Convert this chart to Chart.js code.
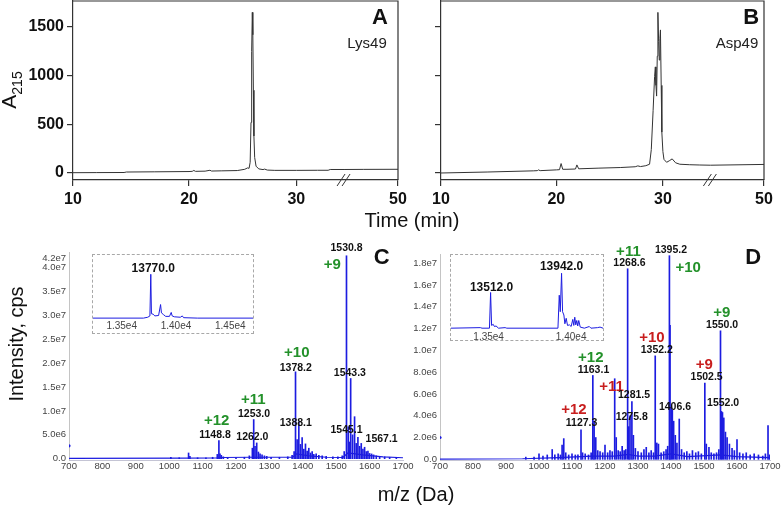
<!DOCTYPE html>
<html>
<head>
<meta charset="utf-8">
<script src="https://cdn.jsdelivr.net/npm/chart.js@4.4.0/dist/chart.umd.min.js"></script>
<style>
  html, body { margin: 0; padding: 0; background: #fff; }
  #wrap { position: relative; width: 782px; height: 506px; overflow: hidden;
          font-family: "Liberation Sans", Arial, sans-serif; color: #111; }
  #wrap canvas { position: absolute; }
  .title { position: absolute; font-size: 20px; white-space: nowrap; transform: translate(-50%, -50%); }
  .rot { transform: translate(-50%, -50%) rotate(-90deg); }
  .inset { position: absolute; border: 1px dashed #a8a8a8; box-sizing: border-box; }
  .inset canvas { left: 0; top: 0; }
</style>
</head>
<body>
<div id="wrap">
  <canvas id="chartA" style="left:0;top:0" width="420" height="212"></canvas>
  <canvas id="chartB" style="left:420px;top:0" width="362" height="212"></canvas>
  <canvas id="chartC" style="left:0;top:240px" width="420" height="250"></canvas>
  <canvas id="chartD" style="left:405px;top:240px" width="377" height="250"></canvas>
  <div class="inset" style="left:92px;top:254px;width:162px;height:80px"><canvas id="insetC" width="160" height="78"></canvas></div>
  <div class="inset" style="left:450px;top:254px;width:154px;height:87px"><canvas id="insetD" width="152" height="85"></canvas></div>
  <div class="title rot" style="left:11px;top:90px;font-size:21px">A<sub style="font-size:14px">215</sub></div>
  <div class="title" style="left:412px;top:220px">Time (min)</div>
  <div class="title rot" style="left:16px;top:344px">Intensity, cps</div>
  <div class="title" style="left:416px;top:494px">m/z (Da)</div>
</div>
<script>
// --- HPLC traces (time in min, absorbance at 215 nm)
const timeA = [10, 12, 14.4, 14.6, 17, 20, 20.3, 20.45, 20.6, 21.5, 21.95, 22.1, 23, 24.5, 25.2, 25.45, 25.6, 25.7, 25.78, 25.84, 25.9, 25.95, 26.0, 26.05, 26.12, 26.25, 26.5, 26.9, 27.05, 27.3, 28, 30, 32, 33, 33.2, 34.5, 40, 50];
const absA  = [3, 4, 5, 10, 12, 15, 17, 26, 17, 19, 28, 20, 22, 25, 38, 52, 48, 110, 520, 1250, 1650, 1420, 850, 380, 160, 70, 42, 35, 40, 30, 27, 27, 28, 28, 36, 36, 37, 38];

const timeB = [10, 14, 18, 18.35, 18.45, 18.6, 20, 20.3, 20.45, 20.6, 21, 21.8, 21.93, 22.1, 24, 26, 27.4, 27.65, 27.9, 28.4, 28.75, 28.91, 29.08, 29.22, 29.29, 29.35, 29.41, 29.47, 29.53, 29.6, 29.66, 29.72, 29.77, 29.84, 29.9, 30.0, 30.1, 30.35, 30.6, 30.88, 31.2, 31.6, 32.5, 33.5, 34.5, 50];
const absB  = [0, 10, 22, 24, 32, 24, 32, 34, 97, 38, 38, 41, 83, 43, 50, 56, 64, 73, 66, 75, 90, 240, 640, 990, 1090, 900, 790, 1200, 1650, 1350, 1160, 1380, 1470, 900, 420, 220, 140, 110, 125, 145, 105, 90, 85, 82, 80, 88];

const timeTicks = [10, 20, 30, 50];
const absTicks = [0, 500, 1000, 1500];

// --- ESI spectra (m/z, intensity in cps)
const mzC  = [1005, 1030, 1058, 1062, 1085, 1110, 1130, 1144, 1148.8, 1152, 1156, 1162, 1175, 1200, 1225, 1240, 1249, 1253.0, 1257, 1262.0, 1267, 1272, 1278, 1285, 1292, 1305, 1330, 1355, 1368, 1374, 1378.2, 1383, 1388.1, 1393, 1398, 1403, 1408, 1413, 1418, 1423, 1428, 1433, 1440, 1448, 1458, 1470, 1490, 1505, 1518, 1524, 1530.8, 1536, 1540, 1543.3, 1549, 1555, 1560, 1565, 1570, 1575, 1580, 1585, 1590, 1595, 1600, 1606, 1612, 1620, 1630, 1645, 1660, 1680];
const intC = [0.3e6, 0.2e6, 1.2e6, 0.5e6, 0.2e6, 0.2e6, 0.3e6, 0.9e6, 3.8e6, 1.0e6, 0.7e6, 0.4e6, 0.2e6, 0.2e6, 0.3e6, 0.6e6, 2.2e6, 8.2e6, 2.6e6, 3.3e6, 1.4e6, 1.0e6, 0.8e6, 0.6e6, 0.5e6, 0.3e6, 0.3e6, 0.4e6, 0.7e6, 1.5e6, 18.2e6, 4.0e6, 7.7e6, 3.0e6, 4.4e6, 2.0e6, 3.1e6, 1.6e6, 2.2e6, 1.2e6, 1.5e6, 0.9e6, 1.0e6, 0.7e6, 0.6e6, 0.5e6, 0.4e6, 0.4e6, 0.6e6, 1.5e6, 42.5e6, 6.7e6, 3.5e6, 16.8e6, 5.0e6, 8.8e6, 3.2e6, 4.5e6, 2.6e6, 3.2e6, 2.0e6, 2.4e6, 1.5e6, 1.6e6, 1.1e6, 1.0e6, 0.8e6, 0.6e6, 0.5e6, 0.4e6, 0.3e6, 0.2e6];
const baseMzC  = [700, 1050, 1140, 1160, 1245, 1300, 1370, 1380, 1420, 1470, 1520, 1535, 1580, 1640, 1700];
const baseIntC = [0.05e6, 0.1e6, 0.15e6, 0.25e6, 0.3e6, 0.3e6, 0.3e6, 1.0e6, 0.6e6, 0.3e6, 0.25e6, 1.2e6, 0.8e6, 0.4e6, 0.2e6];

const mzD  = [960, 985, 1000, 1012, 1025, 1040, 1048, 1058, 1065, 1070, 1075, 1081, 1090, 1100, 1110, 1118, 1127.3, 1132, 1140, 1150, 1158, 1163.1, 1167, 1172, 1178, 1185, 1193, 1200, 1208, 1215, 1222, 1229.4, 1234, 1240, 1246, 1252, 1258, 1263, 1268.6, 1272, 1275.8, 1281.5, 1286, 1292, 1300, 1310, 1318, 1325, 1333, 1340, 1347, 1352.2, 1357, 1362, 1370, 1378, 1385, 1390, 1395.2, 1397, 1401, 1404, 1408, 1413, 1418, 1425, 1432, 1440, 1448, 1456, 1465, 1475, 1483, 1492, 1502.5, 1507, 1515, 1522, 1530, 1538, 1545, 1550.0, 1553, 1556, 1560, 1565, 1570, 1577, 1585, 1592, 1600, 1608, 1618, 1628, 1640, 1652, 1665, 1678, 1686, 1694, 1699];
const intD = [0.2e6, 0.2e6, 0.5e6, 0.3e6, 0.4e6, 0.9e6, 0.4e6, 0.5e6, 0.4e6, 1.3e6, 1.9e6, 0.6e6, 0.4e6, 0.5e6, 0.4e6, 0.4e6, 2.7e6, 0.6e6, 0.5e6, 0.4e6, 0.6e6, 7.7e6, 3.5e6, 2.0e6, 0.8e6, 0.7e6, 0.6e6, 1.3e6, 0.6e6, 0.8e6, 0.7e6, 7.4e6, 2.0e6, 0.8e6, 0.7e6, 1.2e6, 0.8e6, 0.9e6, 17.5e6, 3.0e6, 4.0e6, 5.3e6, 2.2e6, 1.0e6, 0.7e6, 0.6e6, 0.9e6, 1.1e6, 0.6e6, 0.8e6, 0.6e6, 9.5e6, 1.5e6, 1.4e6, 0.6e6, 0.7e6, 0.9e6, 1.2e6, 18.7e6, 12.3e6, 4.8e6, 4.5e6, 3.5e6, 2.2e6, 1.5e6, 3.7e6, 0.9e6, 0.6e6, 0.7e6, 0.5e6, 0.8e6, 0.6e6, 0.7e6, 0.5e6, 7.0e6, 1.4e6, 1.1e6, 0.6e6, 0.5e6, 0.6e6, 0.9e6, 11.8e6, 4.4e6, 4.3e6, 3.8e6, 2.5e6, 2.0e6, 1.4e6, 1.0e6, 0.8e6, 1.8e6, 0.6e6, 0.5e6, 0.6e6, 0.4e6, 0.5e6, 0.4e6, 0.3e6, 0.5e6, 3.1e6, 0.4e6];
const baseMzD  = [700, 950, 1060, 1160, 1230, 1270, 1300, 1350, 1400, 1450, 1550, 1600, 1700];
const baseIntD = [0.02e6, 0.05e6, 0.15e6, 0.3e6, 0.3e6, 0.45e6, 0.3e6, 0.3e6, 0.5e6, 0.25e6, 0.4e6, 0.25e6, 0.15e6];

const mzTicks = [700, 800, 900, 1000, 1100, 1200, 1300, 1400, 1500, 1600, 1700];
const intTicksC = [0, 5e6, 1e7, 1.5e7, 2e7, 2.5e7, 3e7, 3.5e7, 4e7, 4.2e7];
const intTicksD = [0, 2e6, 4e6, 6e6, 8e6, 1e7, 1.2e7, 1.4e7, 1.6e7, 1.8e7];

// --- deconvoluted mass insets (relative intensity)
const massC = [13236, 13700, 13740, 13760, 13768, 13774, 13790, 13805, 13840, 13858, 13866, 13885, 13905, 13940, 13956, 13965, 13985, 14040, 14058, 14070, 14200, 14709];
const relC  = [0, 0, 0.02, 0.05, 1.0, 0.1, 0.09, 0.05, 0.06, 0.31, 0.12, 0.08, 0.04, 0.04, 0.13, 0.05, 0.03, 0.02, 0.05, 0.01, 0, 0];
const massD = [13272, 13450, 13460, 13505, 13512, 13518, 13528, 13535, 13545, 13560, 13600, 13610, 13920, 13928, 13934, 13942, 13948, 13956, 13962, 13970, 13978, 13990, 14000, 14010, 14016, 14022, 14028, 14034, 14040, 14046, 14055, 14080, 14110, 14120, 14160, 14175, 14193];
const relD  = [0, 0.01, 0, 0, 0.65, 0.05, 0.07, 0.03, 0.04, 0, 0.01, 0, 0, 0.6, 0.3, 1.0, 0.3, 0.24, 0.08, 0.18, 0.05, 0.06, 0.03, 0.16, 0.05, 0.2, 0.06, 0.14, 0.04, 0.14, 0.02, 0, 0.03, 0, 0.01, 0.02, 0];

const FONT = "'Liberation Sans', Arial, sans-serif";
const GREEN = '#23912a';
const RED = '#c81e1e';
const BLUE = '#1c1ce0';
Chart.defaults.font.family = FONT;
Chart.defaults.color = '#111';

// time axis with a break after 34.5 min (34.5-50 squeezed into the last strip)
const knotVals = [10, 20, 30, 34.5, 50];
const knotFrac = [0, 0.357, 0.687, 0.834, 1];
class BrokenTime extends Chart.LinearScale {
  toDisplay(v) {
    let i = 1;
    while (i < knotVals.length - 1 && v > knotVals[i]) i++;
    const f = knotFrac[i - 1] + (v - knotVals[i - 1]) / (knotVals[i] - knotVals[i - 1]) * (knotFrac[i] - knotFrac[i - 1]);
    return this.min + f * (this.max - this.min);
  }
  getPixelForValue(v) {
    return super.getPixelForValue(this.toDisplay(v));
  }
}
BrokenTime.id = 'brokenTime';
BrokenTime.defaults = Chart.LinearScale.defaults;
Chart.register(BrokenTime);

function pts(xs, ys) {
  return xs.map((x, i) => ({ x: x, y: ys[i] }));
}

function setTicks(list) {
  return s => { s.ticks = list.map(v => ({ value: v })); };
}

function fixSize(prop, size) {
  return s => {
    s[prop] = size;
    s.paddingTop = 0; s.paddingBottom = 0; s.paddingLeft = 0; s.paddingRight = 0;
  };
}

// text labels placed in data coordinates
function texts(items) {
  return {
    id: 'texts',
    afterDatasetsDraw(chart) {
      const ctx = chart.ctx;
      const xs = chart.scales.x, ys = chart.scales.y;
      items.forEach(it => {
        ctx.save();
        ctx.font = it.font;
        ctx.fillStyle = it.color || '#111';
        ctx.textAlign = 'center';
        ctx.textBaseline = 'middle';
        ctx.fillText(it.text, xs.getPixelForValue(it.x), ys.getPixelForValue(it.y));
        ctx.restore();
      });
    }
  };
}

// top/right frame and the // break marks of the chromatograms
const frame = {
  id: 'frame',
  afterDraw(chart) {
    const ctx = chart.ctx;
    const a = chart.chartArea;
    ctx.save();
    ctx.strokeStyle = '#333';
    ctx.lineWidth = 1.2;
    ctx.beginPath();
    ctx.moveTo(a.left, a.top);
    ctx.lineTo(a.right, a.top);
    ctx.lineTo(a.right, a.bottom);
    ctx.stroke();
    const bx = chart.scales.x.getPixelForValue(34.5);
    const by = a.bottom;
    ctx.lineWidth = 1;
    ctx.beginPath();
    ctx.moveTo(bx - 7, by + 6); ctx.lineTo(bx + 1, by - 6);
    ctx.moveTo(bx - 2, by + 6); ctx.lineTo(bx + 6, by - 6);
    ctx.stroke();
    ctx.restore();
  }
};

function hplc(id, times, values, showLabels, yWidth, padRight, items) {
  return new Chart(document.getElementById(id), {
    type: 'line',
    data: {
      datasets: [{
        data: pts(times, values),
        borderColor: '#333',
        borderWidth: 1,
        pointRadius: 0,
        tension: 0
      }]
    },
    options: {
      responsive: false,
      animation: false,
      events: [],
      layout: { padding: { top: 1, right: padRight, left: 0, bottom: 0 } },
      plugins: { legend: { display: false }, tooltip: { enabled: false } },
      scales: {
        x: {
          type: 'brokenTime',
          min: 10, max: 50,
          afterBuildTicks: setTicks(timeTicks),
          afterFit: fixSize('height', 32),
          border: { color: '#333', width: 1.2 },
          grid: { drawOnChartArea: false, drawTicks: true, tickLength: 6, color: '#333', lineWidth: 1.2 },
          ticks: { font: { size: 16, weight: 'bold' }, color: '#111', padding: 4, maxRotation: 0 }
        },
        y: {
          min: -72, max: 1767,
          afterBuildTicks: setTicks(absTicks),
          afterFit: fixSize('width', yWidth),
          border: { color: '#333', width: 1.2 },
          grid: { drawOnChartArea: false, drawTicks: true, tickLength: 6, color: '#333', lineWidth: 1.2 },
          ticks: {
            font: { size: 16, weight: 'bold' }, color: '#111', padding: 3,
            callback: v => showLabels ? String(v) : ''
          }
        }
      }
    },
    plugins: [frame, texts(items)]
  });
}

function intLabel(v) {
  return v === 0 ? '0.0' : v.toExponential(1).replace('+', '');
}

function spectrum(id, mz, inten, baseMz, baseInt, edge, yMin, yMax, yTicks, yWidth, padTop, padRight, items) {
  return new Chart(document.getElementById(id), {
    type: 'line',
    data: {
      datasets: [
        {
          type: 'line',
          data: pts(baseMz, baseInt),
          borderColor: BLUE,
          borderWidth: 1.2,
          pointRadius: 0,
          tension: 0
        },
        {
          type: 'bar',
          data: pts(mz, inten),
          backgroundColor: BLUE,
          borderWidth: 0,
          barThickness: 1
        },
        {
          type: 'line',
          data: [edge],
          showLine: false,
          pointRadius: 1.6,
          pointBackgroundColor: BLUE,
          pointBorderWidth: 0
        }
      ]
    },
    options: {
      responsive: false,
      animation: false,
      events: [],
      layout: { padding: { top: padTop, right: padRight, left: 0, bottom: 0 } },
      plugins: { legend: { display: false }, tooltip: { enabled: false } },
      scales: {
        x: {
          type: 'linear',
          offset: false,
          min: 700, max: 1700,
          afterBuildTicks: setTicks(mzTicks),
          afterFit: fixSize('height', 30),
          border: { color: '#c4c4d4', width: 1, dash: [1, 1] },
          grid: { display: false, drawTicks: false, offset: false },
          ticks: { font: { size: 9.5 }, color: '#444', padding: 1, maxRotation: 0, callback: v => String(v) }
        },
        y: {
          min: yMin, max: yMax,
          afterBuildTicks: setTicks(yTicks),
          afterFit: fixSize('width', yWidth),
          border: { color: '#c4c4c4', width: 1, dash: [1, 2] },
          grid: { display: false, drawTicks: false },
          ticks: { font: { size: 9.5 }, color: '#444', padding: 3, callback: intLabel }
        }
      }
    },
    plugins: [texts(items)]
  });
}

function inset(id, mass, rel, xMin, xMax, yMin, yMax, ticks, axisH, pad, items) {
  return new Chart(document.getElementById(id), {
    type: 'line',
    data: {
      datasets: [{
        data: pts(mass, rel),
        borderColor: BLUE,
        borderWidth: 1,
        pointRadius: 0,
        tension: 0
      }]
    },
    options: {
      responsive: false,
      animation: false,
      events: [],
      layout: { padding: 0 },
      plugins: { legend: { display: false }, tooltip: { enabled: false } },
      scales: {
        x: {
          type: 'linear',
          min: xMin, max: xMax,
          afterBuildTicks: setTicks(ticks),
          afterFit: fixSize('height', axisH),
          border: { display: false },
          grid: { display: false, drawTicks: false },
          ticks: { font: { size: 10 }, color: '#444', padding: pad, maxRotation: 0,
                   callback: v => (v / 1e4).toFixed(2) + 'e4' }
        },
        y: { display: false, min: yMin, max: yMax }
      }
    },
    plugins: [texts(items)]
  });
}

const bigLetter = 'bold 22px ' + FONT;
const sample = '15px ' + FONT;
const num = 'bold 10.5px ' + FONT;
const charge = 'bold 15px ' + FONT;
const mass = 'bold 12px ' + FONT;

hplc('chartA', timeA, absA, true, 73, 22, [
  { text: 'A', x: 44.8, y: 1593, font: bigLetter },
  { text: 'Lys49', x: 41.1, y: 1325, font: sample, color: '#222' }
]);
hplc('chartB', timeB, absB, false, 21, 18, [
  { text: 'B', x: 46.3, y: 1593, font: bigLetter },
  { text: 'Asp49', x: 42.2, y: 1325, font: sample, color: '#222' }
]);

spectrum('chartC', mzC, intC, baseMzC, baseIntC, { x: 700, y: 2.7e6 }, -2.72e5, 4.329e7, intTicksC, 69, 12, 17, [
  { text: 'C', x: 1636, y: 4.197e7, font: bigLetter },
  { text: '1530.8', x: 1531, y: 4.406e7, font: num },
  { text: '+9', x: 1488, y: 4.056e7, font: charge, color: GREEN },
  { text: '+10', x: 1382, y: 2.207e7, font: charge, color: GREEN },
  { text: '1378.2', x: 1379, y: 1.906e7, font: num },
  { text: '1543.3', x: 1541, y: 1.788e7, font: num },
  { text: '1388.1', x: 1379, y: 7.54e6, font: num },
  { text: '1545.1', x: 1531, y: 6.01e6, font: num },
  { text: '1567.1', x: 1636, y: 4.19e6, font: num },
  { text: '+12', x: 1142, y: 7.96e6, font: charge, color: GREEN },
  { text: '1148.8', x: 1137, y: 4.9e6, font: num },
  { text: '+11', x: 1252, y: 1.229e7, font: charge, color: GREEN },
  { text: '1253.0', x: 1254, y: 9.36e6, font: num },
  { text: '1262.0', x: 1249, y: 4.48e6, font: num }
]);

spectrum('chartD', mzD, intD, baseMzD, baseIntD, { x: 700, y: 2.0e6 }, -6.4e4, 1.8854e7, intTicksD, 35, 14, 12, [
  { text: 'D', x: 1649, y: 1.846e7, font: bigLetter },
  { text: '+11', x: 1271, y: 1.907e7, font: charge, color: GREEN },
  { text: '1268.6', x: 1274, y: 1.8e7, font: num },
  { text: '1395.2', x: 1400, y: 1.922e7, font: num },
  { text: '+10', x: 1452, y: 1.754e7, font: charge, color: GREEN },
  { text: '+9', x: 1554, y: 1.346e7, font: charge, color: GREEN },
  { text: '1550.0', x: 1555, y: 1.233e7, font: num },
  { text: '+10', x: 1342, y: 1.111e7, font: charge, color: RED },
  { text: '1352.2', x: 1357, y: 1.004e7, font: num },
  { text: '+12', x: 1157, y: 9.28e6, font: charge, color: GREEN },
  { text: '1163.1', x: 1165, y: 8.2e6, font: num },
  { text: '+9', x: 1501, y: 8.66e6, font: charge, color: RED },
  { text: '1502.5', x: 1508, y: 7.59e6, font: num },
  { text: '+11', x: 1220, y: 6.67e6, font: charge, color: RED },
  { text: '1281.5', x: 1288, y: 5.9e6, font: num },
  { text: '1406.6', x: 1412, y: 4.83e6, font: num },
  { text: '1552.0', x: 1558, y: 5.14e6, font: num },
  { text: '+12', x: 1106, y: 4.53e6, font: charge, color: RED },
  { text: '1127.3', x: 1129, y: 3.31e6, font: num },
  { text: '1275.8', x: 1281, y: 3.86e6, font: num }
]);

inset('insetC', massC, relC, 13236, 14709, -0.02, 1.44, [13500, 14000, 14500], 14, 1.5, [
  { text: '13770.0', x: 13791, y: 1.137, font: mass }
]);
inset('insetD', massD, relD, 13272, 14193, -0.015, 1.333, [13500, 14000], 11, 2, [
  { text: '13512.0', x: 13518, y: 0.737, font: mass },
  { text: '13942.0', x: 13942, y: 1.12, font: mass }
]);
</script>
</body>
</html>
